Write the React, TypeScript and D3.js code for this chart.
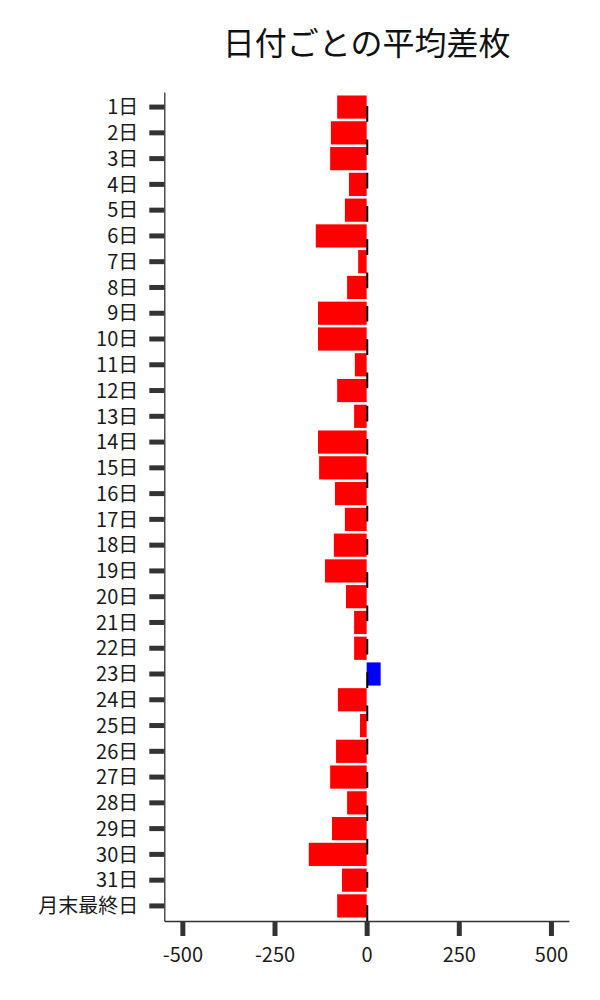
import React, { useEffect, useRef } from 'react';
import * as d3 from 'd3';

// 日付ごとの平均差枚
const days: string[] = [
	'1日', '2日', '3日', '4日', '5日', '6日', '7日', '8日',
	'9日', '10日', '11日', '12日', '13日', '14日', '15日', '16日',
	'17日', '18日', '19日', '20日', '21日', '22日', '23日', '24日',
	'25日', '26日', '27日', '28日', '29日', '30日', '31日', '月末最終日',
];

const avgDiff: number[] = [
	-80, -97, -99, -48, -59, -138, -23, -53,
	-132, -132, -32, -80, -34, -132, -129, -86,
	-59, -89, -113, -56, -34, -34, 38, -78,
	-18, -83, -99, -53, -94, -157, -67, -80,
];

const xTicks: number[] = [-500, -250, 0, 250, 500];

const FONT = '"Noto Sans CJK JP", "Noto Sans", sans-serif';

const App: React.FC = () => {
	const ref = useRef<SVGSVGElement>(null);

	const W = 600;
	const H = 1000;
	const margin = { top: 92, right: 31, bottom: 79, left: 164.3 };

	useEffect(() => {
		if (!ref.current) return;
		const svg = d3.select(ref.current);
		svg.selectAll('*').remove();

		const data = days.map((d, i) => ({ day: d, value: avgDiff[i] }));

		const x = d3
			.scaleLinear()
			.domain([-549, 549])
			.range([margin.left, W - margin.right]);

		const y = d3
			.scaleBand()
			.domain(days)
			.range([margin.top, H - margin.bottom])
			.paddingInner(0.1)
			.paddingOuter(0.135);

		// title
		svg
			.append('text')
			.attr('x', (margin.left + W - margin.right) / 2)
			.attr('y', 55)
			.attr('text-anchor', 'middle')
			.style('font-family', FONT)
			.style('font-size', '32px')
			.style('fill', '#111')
			.text('日付ごとの平均差枚');

		// bars
		svg
			.append('g')
			.selectAll('rect')
			.data(data)
			.enter()
			.append('rect')
			.attr('x', (d) => x(Math.min(0, d.value)))
			.attr('y', (d) => y(d.day) ?? 0)
			.attr('width', (d) => Math.abs(x(d.value) - x(0)))
			.attr('height', y.bandwidth())
			.style('fill', (d) => (d.value < 0 ? '#ff0000' : '#0000ff'));

		// dashed zero line (drawn bottom -> top like matplotlib axvline)
		svg
			.append('line')
			.attr('x1', x(0) + 0.6)
			.attr('x2', x(0) + 0.6)
			.attr('y1', H - margin.bottom)
			.attr('y2', margin.top)
			.style('stroke', '#000')
			.style('stroke-width', 2)
			.style('stroke-dasharray', '15.7,17.6');

		// axes
		const xAxis = d3
			.axisBottom(x)
			.tickValues(xTicks)
			.tickFormat((d) => String(d)) // plain hyphen like the reference
			.tickSize(15)
			.tickSizeOuter(0)
			.tickPadding(12);
		const gx = svg
			.append('g')
			.attr('transform', `translate(0,${H - margin.bottom})`)
			.call(xAxis);

		const yAxis = d3.axisLeft(y).tickSize(15).tickSizeOuter(0).tickPadding(11);
		const gy = svg
			.append('g')
			.attr('transform', `translate(${margin.left},0)`)
			.call(yAxis);

		[gx, gy].forEach((g) => {
			g.select('.domain').style('stroke', '#333').style('stroke-width', 1.3);
			g.selectAll('.tick line').style('stroke', '#333').style('stroke-width', 5);
			g.selectAll('.tick text')
				.style('font-family', FONT)
				.style('font-size', '20px')
				.style('fill', '#1a1a1a');
		});
		gy.selectAll('.tick text').attr('dy', '0.36em');
	}, []);

	return (
		<svg
			ref={ref}
			width={W}
			height={H}
			style={{ position: 'absolute', left: 0, top: 0, background: '#fff' }}
		/>
	);
};

export default App;
